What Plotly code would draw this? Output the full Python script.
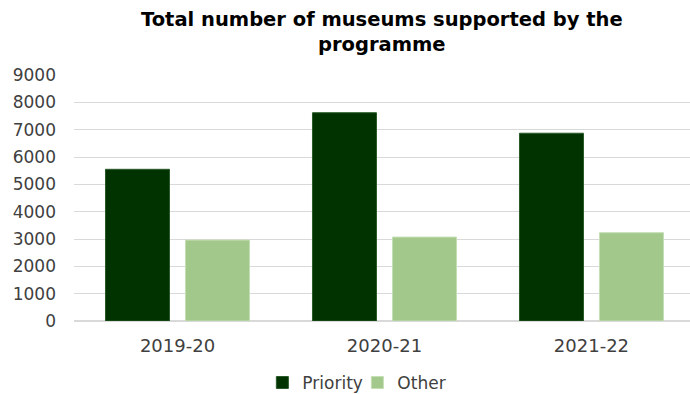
import plotly.graph_objects as go

# Museums supported by the programme, by financial year
years = ["2019-20", "2020-21", "2021-22"]
priority = [5550, 7620, 6870]
other = [2960, 3070, 3230]
y_ticks = [0, 1000, 2000, 3000, 4000, 5000, 6000, 7000, 8000, 9000]

FONT = "DejaVu Sans"
TITLE = "Total number of museums supported by the<br>programme"

fig = go.Figure()
fig.add_trace(go.Bar(
    name="Priority", x=years, y=priority,
    marker=dict(color="#003300", line=dict(color="#2a5a2a", width=1)),
))
fig.add_trace(go.Bar(
    name="Other", x=years, y=other,
    marker=dict(color="#a2c88c", line=dict(color="#c4dfb4", width=1)),
))

fig.update_layout(
    width=690, height=394,
    margin=dict(l=74, r=0, t=75, b=73, autoexpand=False),
    paper_bgcolor="white", plot_bgcolor="white",
    barmode="group", bargap=0.227, bargroupgap=0.2,
    font=dict(family=FONT, size=17, color="#404040"),
    legend=dict(
        orientation="h", x=0.46, xanchor="center", xref="paper",
        y=0.028, yanchor="middle", yref="container",
        entrywidth=50, entrywidthmode="pixels",
        font=dict(family=FONT, size=17, color="#404040"),
    ),
    showlegend=True,
    annotations=[dict(
        text=f"<b>{TITLE}</b>", showarrow=False,
        xref="paper", yref="paper", x=0.5, y=1.1728,
        xanchor="center", yanchor="middle",
        font=dict(family=FONT, size=19.5, color="#000000"),
    )],
)
fig.update_xaxes(
    range=[-0.5, 2.476], showgrid=False, showline=False, ticks="",
    ticklabelstandoff=12,
    tickfont=dict(family=FONT, size=18, color="#404040"),
)
fig.update_yaxes(
    range=[0, 9000], tickvals=y_ticks, showgrid=True,
    gridcolor="#d9d9d9", gridwidth=1, zeroline=True, zerolinecolor="#d9d9d9",
    showline=False, ticks="", ticklabelstandoff=17,
    tickfont=dict(family=FONT, size=17, color="#404040"),
)

fig.write_html("out.html")
